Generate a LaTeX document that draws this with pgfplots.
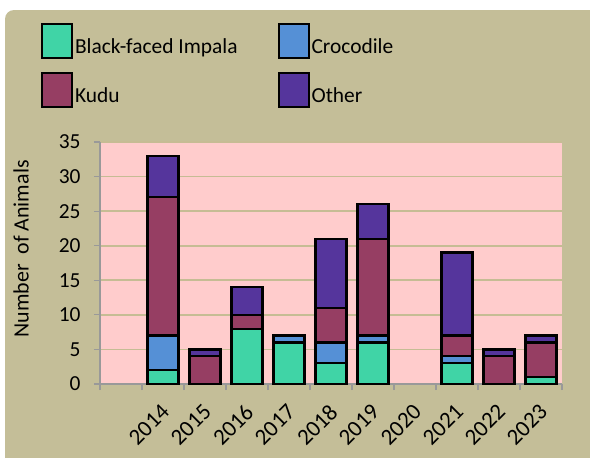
\documentclass[border=0pt]{standalone}
\usepackage{pgfplots}
\pgfplotsset{compat=1.18}
\usepackage{fontspec}
\setmainfont{Carlito}
\definecolor{imp}{HTML}{40D4A6}
\definecolor{croc}{HTML}{5590D6}
\definecolor{kudu}{HTML}{963E63}
\definecolor{oth}{HTML}{55359C}
\definecolor{tanbg}{HTML}{C4BE98}
\definecolor{pinkbg}{HTML}{FFCCCC}
\definecolor{gridc}{HTML}{C6BC94}
\begin{document}
\begin{tikzpicture}
\useasboundingbox (0,0) rectangle (590bp,-458bp);
\fill[white] (0,0) rectangle (590bp,-458bp);
\fill[tanbg, rounded corners=9bp] (5bp,-10bp) rectangle (610bp,-480bp);
\begin{axis}[
    scale only axis,
    width=462bp, height=242bp,
    at={(100bp,-384bp)}, anchor=south west,
    xmin=-0.5, xmax=10.5,
    ymin=0, ymax=35,
    ytick={0,5,...,35},
    xtick={1,...,10},
    xticklabels={2014,2015,2016,2017,2018,2019,2020,2021,2022,2023},
    major x tick style={draw=none},
    minor xtick={-0.5,0.5,...,10.5},
    minor tick length=6bp,
    major tick length=6bp,
    tick align=outside,
    xtick pos=bottom, ytick pos=left,
    axis lines*=left,
    axis line style={draw=gray!80, line width=1.2bp},
    every tick/.style={draw=gray!80, line width=1.2bp},
    ymajorgrids,
    grid style={draw=gridc, line width=1.6bp},
    axis background/.style={fill=pinkbg},
    /pgf/number format/assume math mode=true,
    tick label style={font=\fontsize{21.5}{25}\selectfont},
    yticklabel style={xshift=-10bp},
    xticklabel style={font=\fontsize{23}{27}\selectfont, xshift=-3bp, yshift=-8bp, rotate=45, anchor=north east},
    ylabel={Number\ \ of Animals},
    ylabel style={at={(axis description cs:-0.171,0.558)}, anchor=center, rotate=0, font=\fontsize{22}{26}\selectfont},
    ybar stacked,
    bar width=31bp,
    legend columns=2,
    legend cell align=left,
    legend style={at={(axis description cs:-0.1277,1.4917)}, anchor=north west,
        draw=none, fill=none, inner sep=0pt, outer sep=0pt,
        font=\fontsize{21.5}{25}\selectfont,
        /tikz/every even column/.append style={column sep=38bp},
        row sep=13bp,
        nodes={inner xsep=2bp}},
    legend image code/.code={\draw[#1, line width=2bp] (0bp,-11bp) rectangle (30bp,23bp);},
]
\addplot[fill=imp, draw=black, line width=2.3bp] coordinates {(1,2) (2,0) (3,8) (4,6) (5,3) (6,6) (8,3) (9,0) (10,1)};
\addplot[fill=croc, draw=black, line width=2.3bp] coordinates {(1,5) (2,0) (3,0) (4,1) (5,3) (6,1) (8,1) (9,0) (10,0)};
\addplot[fill=kudu, draw=black, line width=2.3bp] coordinates {(1,20) (2,4) (3,2) (4,0) (5,5) (6,14) (8,3) (9,4) (10,5)};
\addplot[fill=oth, draw=black, line width=2.3bp] coordinates {(1,6) (2,1) (3,4) (4,0) (5,10) (6,5) (8,12) (9,1) (10,1)};
\legend{Black-faced Impala, Crocodile, Kudu, Other}
\end{axis}
\end{tikzpicture}
\end{document}
